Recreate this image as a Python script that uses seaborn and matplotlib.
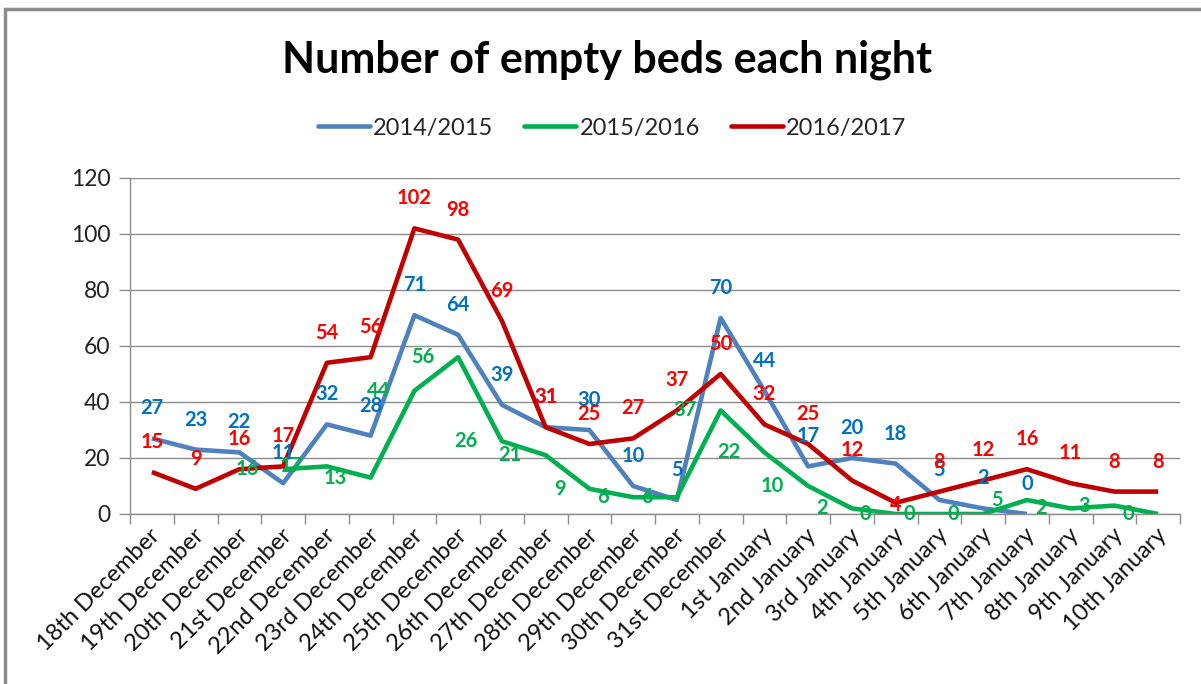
import numpy as np
import pandas as pd
import matplotlib
matplotlib.use("Agg")
import matplotlib.pyplot as plt
import matplotlib.transforms as mtransforms
from matplotlib.lines import Line2D
from matplotlib.patches import Rectangle
import seaborn as sns

# ---------------- data ----------------
dates = ["18th December", "19th December", "20th December", "21st December",
         "22nd December", "23rd December", "24th December", "25th December",
         "26th December", "27th December", "28th December", "29th December",
         "30th December", "31st December", "1st January", "2nd January",
         "3rd January", "4th January", "5th January", "6th January",
         "7th January", "8th January", "9th January", "10th January"]
seasons = ["2014/2015", "2015/2016", "2016/2017"]
beds_2014_2015 = [27, 23, 22, 11, 32, 28, 71, 64, 39, 31, 30, 10, 5, 70, 44, 17,
                  20, 18, 5, 2, 0, None, None, None]
beds_2015_2016 = [None, None, None, 16, 17, 13, 44, 56, 26, 21, 9, 6, 6, 37, 22, 10,
                  2, 0, 0, 0, 5, 2, 3, 0]
beds_2016_2017 = [15, 9, 16, 17, 54, 56, 102, 98, 69, 31, 25, 27, 37, 50, 32, 25,
                  12, 4, 8, 12, 16, 11, 8, 8]
y_ticks = [0, 20, 40, 60, 80, 100, 120]
title = "Number of empty beds each night"

# ---------------- styles ----------------
line_colors = {"2014/2015": "#4F81BD", "2015/2016": "#00B050", "2016/2017": "#C00000"}
label_colors = {"2014/2015": "#0070C0", "2015/2016": "#00B050", "2016/2017": "#FF0000"}

sns.set_theme(style="white")
plt.rcParams["font.family"] = ["Lato", "DejaVu Sans"]

series = {"2014/2015": beds_2014_2015, "2015/2016": beds_2015_2016,
          "2016/2017": beds_2016_2017}
rows = []
for s in seasons:
    for d, v in zip(dates, series[s]):
        rows.append({"date": d, "beds": v, "season": s})
df = pd.DataFrame(rows)
df["beds"] = df["beds"].astype(float)
df["date"] = pd.Categorical(df["date"], categories=dates, ordered=True)
df = df.dropna(subset=["beds"])

fig = plt.figure(figsize=(12.01, 6.84), dpi=100)
fig.patch.set_facecolor("white")
ax = fig.add_axes([130 / 1201, 1 - 514 / 684, (1180 - 130) / 1201, (514 - 178) / 684])

sns.lineplot(data=df, x="date", y="beds", hue="season", hue_order=seasons,
             palette=line_colors, sort=False, linewidth=3.3, legend=False,
             estimator=None, ax=ax)
for ln in ax.get_lines():
    ln.set_solid_joinstyle("round")
    ln.set_solid_capstyle("butt")

ax.set_xlim(-0.5, len(dates) - 0.5)
ax.set_ylim(0, 120)
ax.set_yticks(y_ticks)
ax.set_yticklabels([str(t) for t in y_ticks], fontsize=16.5, color="#222222")
ax.set_xticks(range(len(dates)))
ax.set_xticklabels(dates, rotation=45, ha="right", va="center",
                   rotation_mode="anchor", fontsize=17, color="#111111")
ax.set_xticks(np.arange(-0.5, len(dates), 1.0), minor=True)
ax.tick_params(axis="x", which="major", length=0, pad=13)
ax.tick_params(axis="x", which="minor", length=7, width=1, color="#8c8c8c", direction="out", bottom=True)
ax.tick_params(axis="y", which="major", length=8, width=1, color="#8c8c8c", direction="out", left=True, pad=6)
shift = mtransforms.ScaledTranslation(5 / 100, 0, fig.dpi_scale_trans)
for lbl in ax.get_xticklabels():
    lbl.set_transform(lbl.get_transform() + shift)

ax.set_xlabel("")
ax.set_ylabel("")
ax.yaxis.grid(True, color="#8c8c8c", linewidth=1)
ax.xaxis.grid(False)
ax.set_axisbelow(True)
for side in ["top", "right"]:
    ax.spines[side].set_visible(False)
for side in ["left", "bottom"]:
    ax.spines[side].set_color("#8c8c8c")
    ax.spines[side].set_linewidth(1)

# data labels
for s in seasons:
    for i, v in enumerate(series[s]):
        if v is None:
            continue
        if s == "2015/2016":
            ax.annotate(str(v), xy=(i, v), xytext=(-24, 0), textcoords="offset pixels",
                        ha="right", va="center", fontsize=14.5, fontweight="bold",
                        color=label_colors[s], annotation_clip=False)
        else:
            dy = 30
            if s == "2016/2017" and dates[i] == "4th January":
                dy = -2
            ax.annotate(str(v), xy=(i, v), xytext=(0, dy), textcoords="offset pixels",
                        ha="center", va="center", fontsize=14.5, fontweight="bold",
                        color=label_colors[s], annotation_clip=False)

# title & legend
fig.text(607 / 1201, 1 - 60 / 684, title, ha="center", va="center",
         fontsize=31, fontweight="bold", color="black")
handles = [Line2D([0], [0], color=line_colors[s], lw=3.3) for s in seasons]
fig.legend(handles, seasons, loc="center", bbox_to_anchor=(612 / 1201, 1 - 128 / 684),
           ncol=3, frameon=False, fontsize=17, handlelength=2.2, handletextpad=0.15,
           columnspacing=1.3)

# outer chart frame
fig.patches.append(Rectangle((5 / 1201, -0.1), 1.2, (1 - 9 / 684) + 0.1,
                             transform=fig.transFigure, fill=False,
                             edgecolor="#8c8c8c", linewidth=2.5))

fig.savefig("out.png", dpi=100, facecolor="white")
